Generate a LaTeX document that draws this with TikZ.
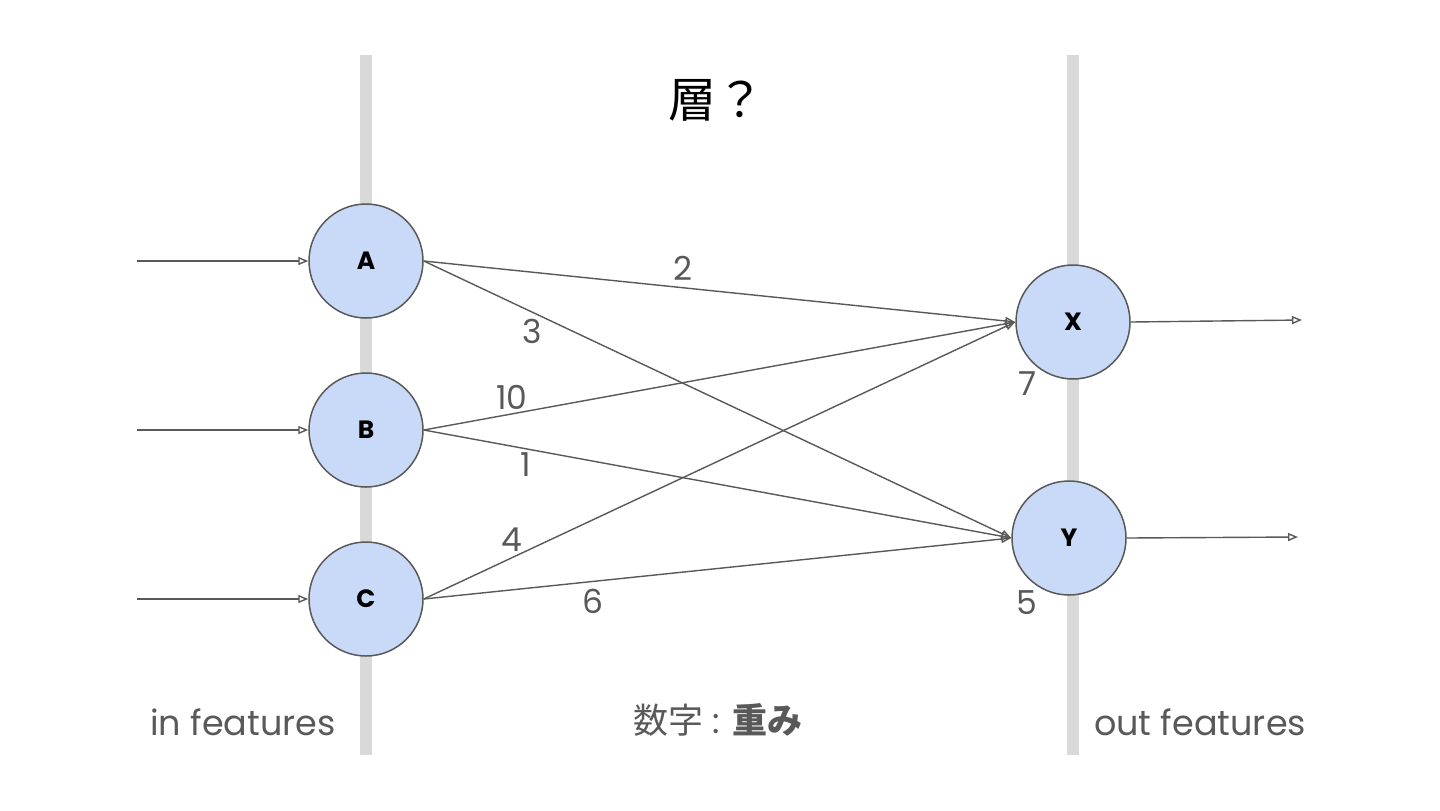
\documentclass[tikz,border=0pt]{standalone}
\usepackage{fontspec}
\setmainfont{Poppins}
\newfontfamily\cjk{Noto Sans CJK JP}
\usetikzlibrary{arrows.meta}
\definecolor{edgegray}{HTML}{595959}
\definecolor{bargray}{HTML}{D9D9D9}
\definecolor{nodefill}{HTML}{C9DAF8}
\begin{document}
\begin{tikzpicture}[x=0.5pt,y=-0.5pt,
  neuron/.style={circle,draw=edgegray,fill=nodefill,line width=0.75pt,minimum size=57pt,inner sep=0pt,font=\fontsize{12.5}{15}\selectfont\bfseries},
  conn/.style={draw=edgegray,line width=0.7pt,-{Triangle[open,length=5pt,width=4pt]}},
  wlabel/.style={text=edgegray,font=\fontsize{16.5}{20}\selectfont,inner sep=0pt},
  caption/.style={text=edgegray,font=\fontsize{17.5}{21}\selectfont,inner sep=0pt},
  bar/.style={fill=bargray,draw=none}]
\useasboundingbox (0,0) rectangle (1440,810);
\fill[white] (0,0) rectangle (1440,810);
% bars
\path[bar] (360,55) rectangle (372,755);
\path[bar] (1067,55) rectangle (1079,755);
% title
\node[inner sep=0pt,font=\cjk\fontsize{24}{28}\selectfont] (title) at (716,100) {層？};
% nodes
\node[neuron] (A) at (366,261) {A};
\node[neuron] (B) at (366,430) {B};
\node[neuron] (C) at (366,599) {C};
\node[neuron] (X) at (1073,322) {X};
\node[neuron] (Y) at (1069,538) {Y};
% input / output coordinates
\coordinate (ia) at (137,261);
\coordinate (ib) at (137,430);
\coordinate (ic) at (137,599);
\coordinate (ox) at (1302,320);
\coordinate (oy) at (1298,537);
\draw[conn] (ia) -- (A.west);
\draw[conn] (ib) -- (B.west);
\draw[conn] (ic) -- (C.west);
\draw[conn] (X.east) -- (ox);
\draw[conn] (Y.east) -- (oy);
% edges
\draw[conn] (A.east) -- (X.west);
\draw[conn] (A.east) -- (Y.west);
\draw[conn] (B.east) -- (X.west);
\draw[conn] (B.east) -- (Y.west);
\draw[conn] (C.east) -- (X.west);
\draw[conn] (C.east) -- (Y.west);
% weights
\node[wlabel] (w2) at (683,268) {2};
\node[wlabel] (w3) at (532,331) {3};
\node[wlabel] (w10) at (512,397) {10};
\node[wlabel] (w1) at (526,465) {1};
\node[wlabel] (w4) at (512,540) {4};
\node[wlabel] (w6) at (593,601) {6};
\node[wlabel] (w7) at (1027,384) {7};
\node[wlabel] (w5) at (1027,603) {5};
% captions
\node[caption] (inf) at (243,722) {in features};
\node[caption] (outf) at (1200,722) {out features};
\node[caption] (num) at (718,720) {{\cjk 数字} : {\cjk\bfseries 重み}};
\end{tikzpicture}
\end{document}
